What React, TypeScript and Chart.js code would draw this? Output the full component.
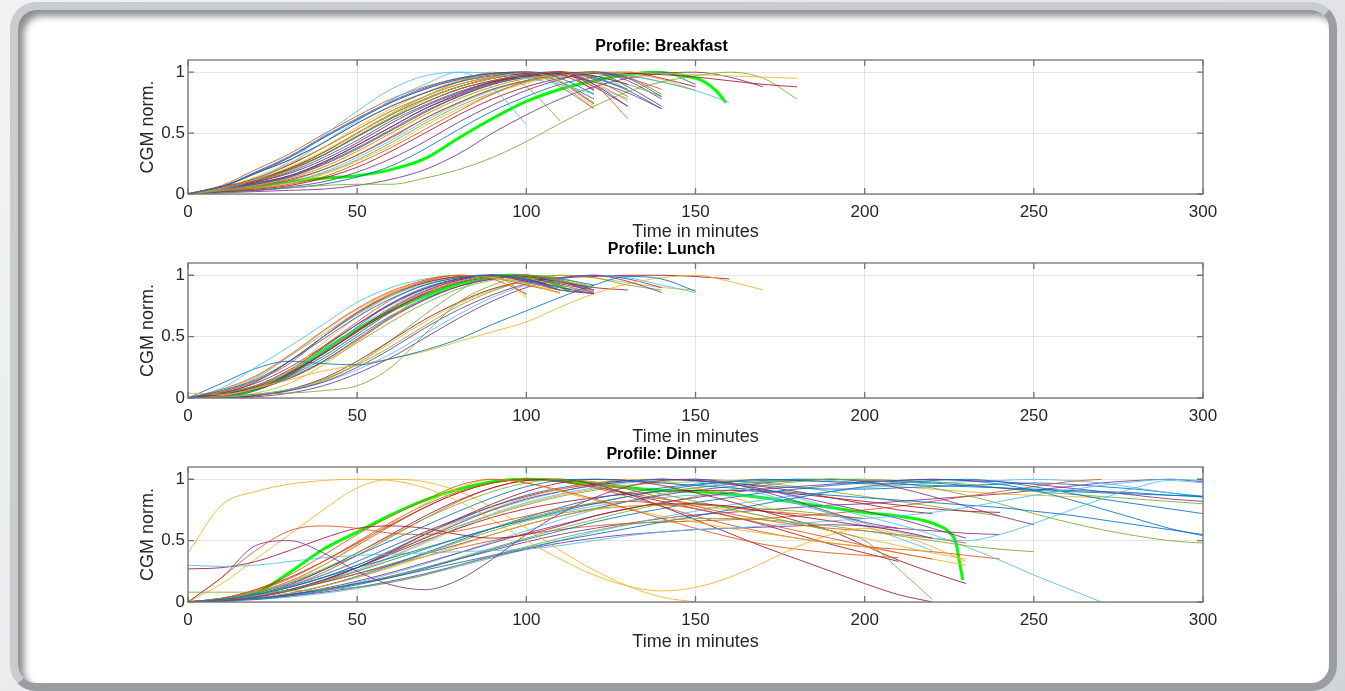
import React, { useEffect, useRef } from "react";
import { Chart, registerables } from "chart.js";

Chart.register(...registerables);

// ---------------- DATA ----------------
const TIME_GRID = [0, 10, 20, 30, 40, 50, 60, 70, 80, 90, 100, 110, 120, 130, 140, 150, 160, 170, 180, 190, 200, 210, 220, 230, 240, 250, 260, 270, 280, 290, 300];
const X_TICKS = [0, 50, 100, 150, 200, 250, 300];
const Y_TICKS = [0, 0.5, 1];
const PANEL_TITLES = ["Profile: Breakfast", "Profile: Lunch", "Profile: Dinner"];
const X_LABEL = "Time in minutes";
const Y_LABEL = "CGM norm.";

// individual CGM profiles, sampled every 10 minutes from t = 0
const BREAKFAST_CURVES: number[][] = [
  [0, .06, .17, .28, .42, .58, .72, .83, .92, .97, 1, .95, .82],
  [0, .06, .11, .2, .32, .47, .62, .75, .86, .93, .98, 1, .94, .8],
  [0, .05, .14, .25, .38, .53, .68, .8, .9, .96, 1, .93, .75],
  [0, .06, .17, .3, .46, .61, .75, .86, .94, .99, 1, .98, .92, .83, .7],
  [0, .03, .055, .1, .17, .28, .42, .58, .72, .83, .92, .97, 1, .85],
  [0, .04, .12, .27, .48, .68, .86, .97, 1, .99, .95, .9, .82],
  [0, .05, .1, .17, .28, .42, .58, .72, .83, .92, .97, 1, .85],
  [0, .045, .08, .14, .25, .38, .53, .68, .8, .9, .96, .99, 1, .95, .8],
  [0, .035, .06, .11, .2, .32, .47, .62, .75, .86, .93, .98, 1, .96, .82],
  [0, .05, .12, .22, .35, .5, .65, .78, .88, .95, 1, .92, .72],
  [0, .04, .09, .15, .26, .4, .55, .7, .81, .91, .97, 1, .9, .72],
  [0, .04, .1, .2, .34, .5, .66, .8, .92, 1, .88, .6],
  [0, .05, .12, .25, .42, .6, .77, .9, 1, .87, .57],
  [0, .06, .12, .21, .34, .5, .65, .78, .88, .95, .99, 1, .97, .9],
  [0, .06, .11, .2, .32, .47, .62, .75, .86, .93, .98, 1, .95, .85, .7],
  [0, .025, .045, .08, .14, .25, .38, .53, .68, .82, .93, 1, .9, .62],
  [0, .04, .07, .13, .22, .35, .5, .65, .78, .88, .95, .98, 1, 1, .99, .98, .97, .96, .95],
  [0, .05, .09, .15, .26, .4, .55, .7, .82, .92, .98, 1, .88, .72],
  [0, .04, .1, .19, .32, .48, .63, .77, .88, .95, .99, 1, .97, .9, .8],
  [0, .03, .06, .1, .18, .3, .44, .6, .74, .85, .93, .98, 1, .98, .92, .85, .75],
  [0, .04, .08, .14, .24, .37, .52, .67, .8, .9, .96, .99, 1, .99, .98, .96, .93, .9, .88],
  [0, .06, .18, .31, .47, .62, .76, .87, .95, .99, 1, .92, .78],
  [0, .06, .17, .28, .42, .58, .72, .83, .92, .98, 1, .88, .7],
  [0, .03, .05, .09, .16, .27, .4, .56, .7, .82, .91, .97, 1, .99, .94, .85],
  [0, .02, .03, .06, .1, .18, .29, .43, .59, .73, .85, .94, 1, .93, .78],
  [0, .01, .03, .05, .07, .08, .08, .13, .2, .3, .43, .58, .72, .84, .92, .97, 1, .95, .78],
  [0, .06, .12, .21, .34, .5, .65, .78, .88, .95, .99, 1, .9, .78],
  [0, .05, .13, .24, .38, .53, .68, .8, .9, .96, 1, .92, .74],
  [0, .05, .1, .18, .3, .44, .6, .73, .84, .92, .97, 1, .96, .86],
  [0, .07, .2, .33, .49, .64, .78, .88, .95, .99, 1, .98, .86],
  [0, .05, .09, .15, .26, .4, .55, .7, .82, .91, .97, 1, .92, .76],
  [0, .04, .07, .12, .2, .32, .46, .62, .75, .86, .93, .98, 1, .88, .72],
  [0, .06, .11, .2, .32, .47, .62, .75, .86, .93, .98, 1, .9],
  [0, .06, .18, .3, .46, .61, .75, .86, .94, .99, 1, .9, .7],
  [0, .02, .04, .07, .13, .22, .35, .5, .65, .78, .88, .95, .99, 1, .95, .88],
  [0, .015, .03, .05, .08, .14, .23, .37, .53, .68, .8, .9, .96, .99, 1, .9],
  [0, .06, .12, .21, .34, .5, .65, .78, .88, .95, .99, 1, .99, .95, .86],
  [0, .05, .12, .24, .38, .55, .7, .83, .93, .98, 1, .97, .88, .78],
  [0, .01, .02, .03, .04, .07, .12, .2, .33, .5, .65, .78, .88, .95, .99, 1, .96, .88],
  [0, .04, .07, .13, .22, .35, .5, .65, .78, .88, .95, .99, 1, .97, .92, .85],
];
const BREAKFAST_MEAN_T = [0, 10, 20, 30, 40, 50, 60, 70, 80, 90, 100, 110, 120, 130, 137, 145, 152, 156, 159];
const BREAKFAST_MEAN = [0, .03, .06, .1, .13, .15, .2, .29, .46, .62, .76, .86, .93, .98, 1, .98, .93, .85, .75];

const LUNCH_CURVES: number[][] = [
  [0, .06, .15, .3, .48, .66, .81, .92, .98, 1, .97, .88],
  [0, .07, .18, .35, .55, .73, .87, .96, 1, .97, .85],
  [.04, .03, .08, .22, .45, .66, .84, .96, 1, .98, .93, .85],
  [0, .04, .12, .25, .42, .6, .76, .89, .97, 1, .96, .88, .85],
  [0, .01, .03, .04, .06, .1, .25, .52, .78, .92, 1, .96, .9],
  [0, .08, .25, .42, .6, .78, .9, .97, 1, .98, .94, .9],
  [0, .03, .09, .2, .36, .55, .73, .87, .96, 1, .97, .9, .85],
  [0, .12, .24, .3, .28, .27, .32, .39, .48, .6, .71, .82, .92, .99, .97, .87],
  [0, .05, .14, .28, .5, .7, .85, .95, 1, .98, .92, .86],
  [0, .02, .08, .15, .22, .27, .32, .38, .46, .54, .62, .74, .85, .93, .98, 1, .95, .88],
  [0, .02, .07, .16, .3, .48, .66, .8, .91, .97, 1, .94, .9],
  [0, .04, .1, .2, .34, .52, .7, .84, .94, .99, 1, .95, .9],
  [0, .03, .1, .22, .38, .57, .74, .88, .96, 1, .96, .88, .86],
  [0, .04, .13, .3, .5, .69, .84, .94, .99, 1, .95, .9],
  [0, .01, .06, .18, .37, .58, .77, .9, .97, 1, .96, .9],
  [0, .02, .08, .22, .42, .62, .8, .92, .98, 1, .94, .88],
  [0, .06, .17, .34, .54, .72, .86, .95, .99, 1, .92, .88],
  [0, 0, .02, .06, .13, .25, .4, .57, .72, .84, .93, .98, 1, .95, .86],
  [0, .03, .08, .16, .29, .45, .62, .77, .89, .96, 1, .98, .9],
  [0, .01, .03, .07, .13, .23, .36, .52, .68, .82, .92, .98, 1, .98, .92, .86],
  [0, .03, .1, .23, .41, .6, .77, .89, .97, 1, .99, .95, .9, .88],
  [0, .03, .09, .19, .34, .52, .7, .84, .94, .99, 1, .97, .92],
  [0, .02, .08, .17, .3, .47, .65, .8, .91, .98, 1, .96, .88],
  [0, .01, .04, .12, .27, .46, .66, .84, .96, 1, .82],
  [0, 0, .01, .04, .1, .2, .33, .49, .65, .79, .9, .97, 1, .97, .9],
  [0, .01, .03, .07, .15, .27, .42, .59, .75, .87, .96, 1, .98, .92, .88],
  [0, .05, .16, .34, .52, .7, .84, .94, .99, 1, .95, .9],
  [0, 0, .02, .07, .16, .3, .47, .64, .78, .89, .95, .98, .99, 1, 1, .99, .97],
  [0, .03, .08, .18, .32, .5, .67, .81, .91, .97, 1, .95, .88],
  [0, .04, .1, .21, .37, .55, .72, .86, .95, 1, .98, .92, .86],
  [0, 0, .02, .07, .15, .28, .45, .62, .77, .88, .96, 1, .98, .94, .9, .88],
  [0, .03, .1, .21, .36, .54, .71, .85, .94, .99, 1, .93, .88],
  [0, .01, .02, .06, .14, .28, .47, .68, .87, 1, .84],
  [0, .05, .14, .3, .5, .68, .83, .93, .99, 1, .95, .9, .87],
  [0, .02, .08, .2, .36, .54, .71, .85, .94, .99, 1, .95, .86],
];
const LUNCH_MEAN_T = [0, 10, 20, 30, 40, 50, 60, 70, 80, 90, 95, 100, 105, 110, 113];
const LUNCH_MEAN = [0, .01, .07, .2, .39, .56, .71, .83, .93, .99, 1, .99, .96, .91, .87];

const DINNER_CURVES: number[][] = [
  [0, .02, .06, .12, .2, .28, .36, .44, .52, .6, .67, .74, .8, .86, .91, .95, .98, 1, .99, .98, .97, .96, .95, .94, .93, .92, .91, .9, .89, .87, .86],
  [0, .2, .42, .58, .62, .6, .56, .55, .58, .64, .7, .76, .8, .82, .8, .76, .7, .64, .58, .52, .46, .4, .35],
  [.4, .79, .9, .96, .99, 1, .99, .93, .82, .67, .5, .35, .22, .13, .09, .12, .2, .32, .45, .55, .6, .55, .45, .33],
  [0, .2, .46, .5, .4, .25, .14, .1, .18, .35, .55, .72, .85, .94, .99, 1, .97, .9, .82, .73, .65, .6],
  [.08, .08, .08, .09, .1, .12, .16, .22, .3, .38, .45, .52, .58, .63, .66, .68, .68, .67, .65, .62, .58, .54, .5, .46, .43, .41],
  [.3, .29, .3, .33, .36, .38, .39, .4, .41, .42, .43, .46, .5, .54, .57, .59, .6, .62, .64, .66, .68, .7, .73, .77, .82, .87, .91, .95, .98, 1, .99],
  [.27, .28, .33, .42, .52, .6, .62, .6, .55, .52, .55, .62, .7, .76, .8, .8, .78, .74, .7, .66, .62, .58, .52],
  [0, .02, .07, .15, .26, .38, .5, .62, .74, .85, .94, .99, 1, .99, .97, .95, .93, .91, .89, .87, .85, .83, .81, .79, .77, .74, .71, .67, .63, .59, .55],
  [0, .03, .1, .22, .38, .55, .7, .83, .95, 1, .97, .91, .84, .76, .68, .6, .53, .47, .43, .4, .38, .36],
  [0, .02, .07, .16, .3, .47, .64, .8, .93, 1, .97, .9, .83, .76, .7, .65, .6, .56, .52, .48, .45, .4, .35, .3],
  [0, .01, .04, .1, .18, .28, .4, .52, .64, .75, .84, .9, .95, .98, 1, .99, .96, .92, .86, .8, .74, .68, .6, .52],
  [0, .03, .08, .16, .27, .4, .54, .68, .8, .9, .97, 1, .98, .94, .88, .82, .76, .7, .64, .58, .5, .27, .02],
  [0, .02, .06, .13, .22, .33, .45, .56, .66, .75, .83, .9, .95, .98, 1, .98, .94, .88, .8, .72, .64, .57, .52, .5, .55, .64, .74, .84, .93, .99, .97],
  [0, .02, .06, .14, .26, .4, .55, .7, .83, .93, .99, 1, .96, .88, .78, .67, .56, .45, .35, .25, .15, .06, 0],
  [0, .01, .03, .06, .1, .15, .2, .26, .32, .38, .44, .5, .55, .6, .65, .7, .75, .8, .85, .9, .94, .97, .99, 1, .98, .94, .89, .84, .8, .76, .72],
  [0, .02, .06, .13, .24, .38, .53, .68, .82, .93, .99, 1, .97, .92, .85, .78, .72, .67, .63, .6, .58, .55, .52, .48],
  [0, .01, .03, .07, .13, .2, .28, .37, .46, .55, .63, .7, .75, .78, .79, .78, .75, .7, .64, .58, .52, .46, .4, .35],
  [0, .01, .03, .06, .11, .17, .24, .32, .4, .48, .56, .63, .7, .76, .81, .85, .89, .92, .94, .96, .98, .99, 1, .99, .98, .96, .93, .9, .87, .84, .82],
  [0, .02, .05, .1, .17, .25, .34, .43, .52, .6, .68, .75, .81, .86, .9, .93, .96, .98, .99, 1, .99, .97, .93, .87, .8, .72, .65, .59, .54, .5, .48],
  [0, .02, .05, .1, .17, .26, .37, .49, .61, .72, .81, .88, .93, .97, .99, 1, .97, .92, .85, .77, .7, .63, .55, .45, .34, .22, .11, 0],
  [0, .01, .04, .09, .17, .28, .41, .55, .68, .8, .9, .97, 1, .99, .95, .89, .82, .74, .66, .58, .46, .34, .24, .15],
  [0, .01, .03, .07, .13, .21, .3, .4, .5, .6, .69, .77, .84, .89, .93, .96, .98, .99, 1, 1, .99, .98, .97, .95, .93, .91, .9, .89, .88, .87, .86],
  [0, .03, .09, .19, .33, .49, .65, .79, .9, .97, 1, .98, .94, .89, .84, .8, .77, .74, .72, .7, .68],
  [0, .15, .35, .55, .75, .93, 1, .98, .9, .77, .6, .42, .26, .13, .04, 0],
  [0, .01, .03, .05, .08, .12, .17, .23, .3, .37, .43, .48, .52, .55, .57, .59, .6, .61, .62, .63, .62, .6, .58, .56, .55],
  [0, .01, .03, .07, .13, .2, .29, .39, .49, .58, .66, .72, .76, .78, .79, .79, .78, .76, .74, .71, .68],
  [0, .02, .05, .1, .17, .25, .34, .43, .52, .6, .67, .73, .78, .82, .85, .87, .87, .85, .8, .72, .62, .52, .42],
  [0, .02, .05, .1, .18, .28, .39, .5, .6, .69, .76, .81, .85, .88, .9, .91, .91, .9, .88, .85, .82, .79, .76, .74, .73],
  [0, .01, .02, .05, .09, .14, .2, .27, .35, .43, .51, .58, .65, .71, .76, .81, .85, .89, .92, .95, .97, .99, 1, .99, .96, .91, .84, .76, .68, .6, .54],
  [0, .02, .05, .1, .16, .23, .3, .37, .44, .5, .55, .59, .62, .64, .65, .66, .67, .68, .7, .72, .75, .78, .82, .86, .9, .94, .98, 1],
  [0, .02, .05, .1, .18, .28, .4, .53, .65, .76, .85, .92, .97, 1, .98, .93, .86, .78, .7],
  [0, .02, .05, .1, .16, .23, .31, .39, .47, .55, .63, .7, .76, .82, .87, .91, .94, .97, .99, 1, .98, .93, .86, .78, .7, .63],
  [0, .01, .03, .06, .1, .15, .21, .28, .36, .44, .52, .6, .67, .74, .8, .86, .91, .95, .98, 1, 1, .99, .98, .96, .93, .9, .88, .86, .84, .82, .8],
  [0, .01, .02, .04, .07, .11, .16, .22, .29, .36, .43, .5, .57, .63, .69, .74, .79, .83, .87, .9, .93, .95, .97, .98, .99, 1, .99, .97, .93, .89, .85],
  [0, .03, .1, .2, .33, .48, .63, .77, .89, .97, 1, .98, .94, .88, .82, .76, .7, .63, .55, .47, .4, .33],
  [0, .02, .06, .12, .2, .3, .42, .55, .67, .78, .87, .93, .97, .99, 1, .99, .97, .95, .93, .92, .92, .93, .94, .95, .96, .97, .96, .94, .92, .89, .86],
  [0, .03, .08, .17, .3, .46, .62, .77, .89, .97, 1, .98, .93, .86, .78, .7, .63, .57, .52, .48, .45, .43, .41, .38, .35],
  [0, .01, .04, .09, .16, .25, .36, .48, .6, .71, .8, .87, .92, .95, .97, .98, .99, 1, .99, .98, .96, .94, .92, .9, .88, .87, .86, .85],
  [0, .01, .03, .06, .1, .15, .21, .28, .35, .42, .49, .55, .6, .64, .68, .71, .73, .75, .77, .79, .8, .82, .84, .86, .88, .91, .94, .97, .99, 1, .98],
  [0, .02, .06, .12, .2, .3, .41, .52, .62, .71, .79, .86, .91, .95, .98, 1, .99, .97, .94, .9, .86, .82, .78, .74, .7],
  [0, .01, .03, .06, .1, .16, .23, .31, .4, .49, .58, .67, .75, .82, .88, .93, .96, .98, 1, .99, .97],
  [0, .02, .06, .13, .22, .33, .45, .57, .68, .78, .86, .92, .96, .99, 1, .99, .97, .94, .9, .85, .8, .75, .72],
];
const DINNER_MEAN_T = [0, 10, 20, 30, 40, 50, 60, 70, 80, 90, 100, 110, 120, 130, 140, 150, 160, 170, 180, 190, 200, 210, 218, 222, 225, 227, 228, 229];
const DINNER_MEAN = [0, 0, .07, .24, .43, .57, .71, .83, .92, .98, 1, .99, .96, .93, .91, .9, .88, .85, .81, .77, .73, .7, .66, .62, .57, .48, .33, .18];

// ---------------- STYLE / LAYOUT ----------------
const LINE_COLORS = [
  "rgba(0,114,189,0.85)",
  "rgba(217,83,25,0.85)",
  "rgba(237,177,32,0.85)",
  "rgba(126,47,142,0.85)",
  "rgba(119,172,48,0.85)",
  "rgba(77,190,238,0.85)",
  "rgba(162,20,47,0.85)",
];
const MEAN_COLOR = "#00FF00";
const FONT_FAMILY = "'Liberation Sans', Arial, Helvetica, sans-serif";

const CANVAS_LEFT = 120;
const CANVAS_WIDTH = 1113;
const PLOT_LEFT = 188;
const PLOT_RIGHT = 1203;
const Y_TITLE_CENTER = 148;

type PanelLayout = { top: number; plotTop: number; plotBottom: number; titleY: number; xTitleY: number; bottom: number };
const LAYOUTS: PanelLayout[] = [
  { top: 28, plotTop: 60, plotBottom: 194, titleY: 47, xTitleY: 232, bottom: 248 },
  { top: 236, plotTop: 263, plotBottom: 398, titleY: 250, xTitleY: 437, bottom: 452 },
  { top: 440, plotTop: 467, plotBottom: 602, titleY: 455, xTitleY: 642, bottom: 664 },
];

const TITLE_SIZE = 16;
const TICK_SIZE = 17;
const AXIS_TITLE_SIZE = 18;

const matlabBox = {
  id: "matlabBox",
  afterDraw(chart: any) {
    const { ctx, chartArea: a, scales } = chart;
    ctx.save();
    ctx.strokeStyle = "#737373";
    ctx.lineWidth = 1.3;
    ctx.strokeRect(a.left, a.top, a.right - a.left, a.bottom - a.top);
    const tl = 6;
    ctx.beginPath();
    X_TICKS.forEach((v) => {
      const px = scales.x.getPixelForValue(v);
      ctx.moveTo(px, a.bottom);
      ctx.lineTo(px, a.bottom - tl);
      ctx.moveTo(px, a.top);
      ctx.lineTo(px, a.top + tl);
    });
    Y_TICKS.forEach((v) => {
      const py = scales.y.getPixelForValue(v);
      ctx.moveTo(a.left, py);
      ctx.lineTo(a.left + tl, py);
      ctx.moveTo(a.right, py);
      ctx.lineTo(a.right - tl, py);
    });
    ctx.stroke();
    ctx.restore();
  },
};

function buildChart(canvas: HTMLCanvasElement, idx: number, curves: number[][], meanT: number[], meanV: number[]) {
  const L = LAYOUTS[idx];
  const titleLH = TITLE_SIZE * 1.2;
  const titlePadTop = L.titleY - L.top - titleLH / 2;
  const titlePadBottom = L.plotTop - L.top - titlePadTop - titleLH;
  const xAxisHeight = L.bottom - L.plotBottom;
  const axisLH = AXIS_TITLE_SIZE * 1.2;
  const xTitlePadBottom = L.bottom - L.xTitleY - axisLH / 2;
  const tickLH = TICK_SIZE * 1.2;
  const xTickPad = 18 - tickLH / 2;
  const yTitlePadTop = Y_TITLE_CENTER - CANVAS_LEFT - axisLH / 2;

  const datasets: any[] = curves.map((vals, i) => ({
    data: vals.map((v, j) => ({ x: TIME_GRID[j], y: v })),
    borderColor: LINE_COLORS[i % LINE_COLORS.length],
    borderWidth: 1,
    pointRadius: 0,
    fill: false,
    cubicInterpolationMode: "monotone",
  }));
  datasets.push({
    data: meanT.map((t, j) => ({ x: t, y: meanV[j] })),
    borderColor: MEAN_COLOR,
    borderWidth: 3,
    pointRadius: 0,
    fill: false,
    cubicInterpolationMode: "monotone",
  });

  return new Chart(canvas, {
    type: "line",
    data: { datasets },
    options: {
      animation: false,
      responsive: false,
      devicePixelRatio: 1,
      events: [],
      layout: { padding: { left: 0, right: CANVAS_LEFT + CANVAS_WIDTH - PLOT_RIGHT, top: 0, bottom: 0 } },
      plugins: {
        legend: { display: false },
        tooltip: { enabled: false },
        title: {
          display: true,
          text: PANEL_TITLES[idx],
          color: "#000",
          font: { family: FONT_FAMILY, size: TITLE_SIZE, weight: "bold", lineHeight: 1.2 },
          padding: { top: titlePadTop, bottom: titlePadBottom },
        },
      },
      scales: {
        x: {
          type: "linear",
          min: 0,
          max: 300,
          afterBuildTicks: (s: any) => {
            s.ticks = X_TICKS.map((v) => ({ value: v }));
          },
          afterFit: (s: any) => {
            s.height = xAxisHeight;
          },
          ticks: {
            autoSkip: false,
            maxRotation: 0,
            padding: xTickPad,
            color: "#262626",
            font: { family: FONT_FAMILY, size: TICK_SIZE, lineHeight: 1.2 },
            callback: (v: any) => String(v),
          },
          grid: { color: "#e4e4e4", drawTicks: false, lineWidth: 1 },
          border: { display: false },
          title: {
            display: true,
            text: X_LABEL,
            color: "#262626",
            font: { family: FONT_FAMILY, size: AXIS_TITLE_SIZE, lineHeight: 1.2 },
            padding: { top: 0, bottom: xTitlePadBottom },
          },
        },
        y: {
          min: 0,
          max: 1.1,
          afterBuildTicks: (s: any) => {
            s.ticks = Y_TICKS.map((v) => ({ value: v }));
          },
          afterFit: (s: any) => {
            s.width = PLOT_LEFT - CANVAS_LEFT;
          },
          ticks: {
            padding: 3,
            color: "#262626",
            font: { family: FONT_FAMILY, size: TICK_SIZE, lineHeight: 1.2 },
            callback: (v: any) => String(v),
          },
          grid: { color: "#e4e4e4", drawTicks: false, lineWidth: 1 },
          border: { display: false },
          title: {
            display: true,
            text: Y_LABEL,
            color: "#262626",
            font: { family: FONT_FAMILY, size: AXIS_TITLE_SIZE, lineHeight: 1.2 },
            padding: { top: yTitlePadTop, bottom: 0 },
          },
        },
      },
    } as any,
    plugins: [matlabBox],
  });
}

function Panel({ idx, curves, meanT, meanV }: { idx: number; curves: number[][]; meanT: number[]; meanV: number[] }) {
  const ref = useRef<HTMLCanvasElement | null>(null);
  const L = LAYOUTS[idx];
  useEffect(() => {
    if (!ref.current) return;
    const chart = buildChart(ref.current, idx, curves, meanT, meanV);
    return () => chart.destroy();
  }, [idx, curves, meanT, meanV]);
  return (
    <canvas
      ref={ref}
      width={CANVAS_WIDTH}
      height={L.bottom - L.top}
      style={{ position: "absolute", left: CANVAS_LEFT, top: L.top, width: CANVAS_WIDTH, height: L.bottom - L.top }}
    />
  );
}

export default function App() {
  return (
    <div
      style={{
        position: "fixed",
        left: 0,
        top: 0,
        width: 1345,
        height: 691,
        overflow: "hidden",
        background: "linear-gradient(135deg, #f2f2f2 0%, #e6e8e9 55%, #d2d5d7 100%)",
      }}
    >
      <div
        style={{
          position: "absolute",
          left: 10,
          top: 2,
          width: 1327,
          height: 689,
          boxSizing: "border-box",
          borderStyle: "solid",
          borderWidth: 8,
          borderColor: "#c9cdd0 #9a9ea2 #9a9ea2 #c9cdd0",
          borderRadius: 26,
          background: "#ffffff",
          boxShadow: "inset 6px 6px 7px rgba(0,0,0,0.45)",
        }}
      />
      <Panel idx={0} curves={BREAKFAST_CURVES} meanT={BREAKFAST_MEAN_T} meanV={BREAKFAST_MEAN} />
      <Panel idx={1} curves={LUNCH_CURVES} meanT={LUNCH_MEAN_T} meanV={LUNCH_MEAN} />
      <Panel idx={2} curves={DINNER_CURVES} meanT={DINNER_MEAN_T} meanV={DINNER_MEAN} />
    </div>
  );
}
